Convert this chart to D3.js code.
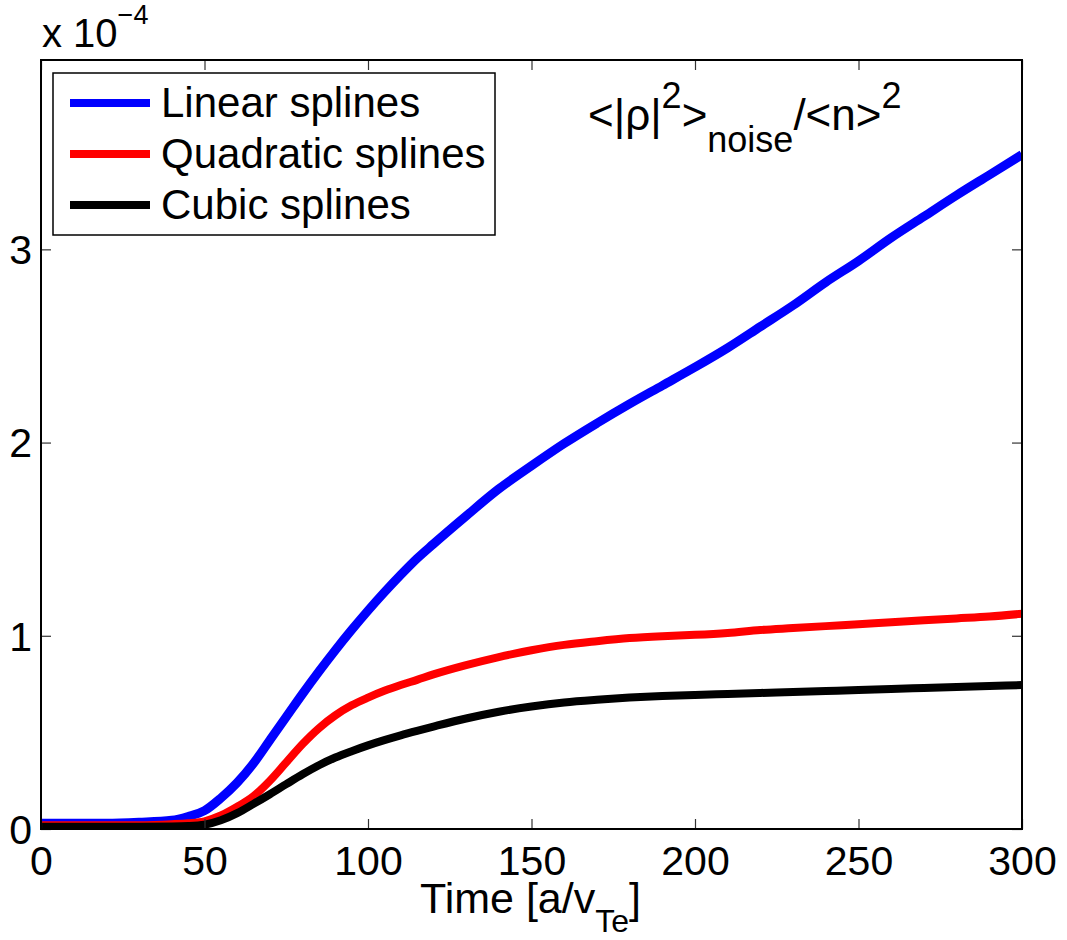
<!DOCTYPE html>
<html>
<head>
<meta charset="utf-8">
<script src="https://cdn.jsdelivr.net/npm/d3@7"></script>
<style>
  body { margin: 0; background: #fff; }
  text { font-family: "Liberation Sans", Arial, Helvetica, sans-serif; fill: #000; }
</style>
</head>
<body>
<div id="chart"></div>
<script>
// time axis samples [a/v_Te]
const times = [0, 10, 20, 30, 40, 45, 50, 55, 60, 65, 70, 75, 80, 85, 90, 95, 100, 105, 110, 115, 120,
  130, 140, 150, 160, 170, 180, 190, 200, 210, 220, 230, 240, 250, 260, 270, 280, 290, 300];

// <|rho|^2>_noise / <n>^2, in units of 1e-4
const linearSplines = [0.03, 0.03, 0.03, 0.035, 0.045, 0.065, 0.095, 0.16, 0.24, 0.34, 0.46, 0.58, 0.70, 0.815, 0.925, 1.03, 1.13, 1.225, 1.315, 1.40, 1.475,
  1.62, 1.76, 1.88, 1.995, 2.10, 2.20, 2.295, 2.39, 2.49, 2.60, 2.71, 2.83, 2.94, 3.06, 3.17, 3.28, 3.385, 3.49];
const quadraticSplines = [0.02, 0.02, 0.02, 0.02, 0.025, 0.03, 0.04, 0.07, 0.115, 0.17, 0.25, 0.345, 0.44, 0.522, 0.588, 0.64, 0.68, 0.715, 0.745, 0.772, 0.80,
  0.848, 0.89, 0.925, 0.953, 0.972, 0.988, 0.998, 1.005, 1.015, 1.03, 1.04, 1.05, 1.06, 1.07, 1.08, 1.09, 1.10, 1.114];
const cubicSplines = [0.012, 0.012, 0.012, 0.012, 0.013, 0.015, 0.022, 0.045, 0.082, 0.13, 0.18, 0.232, 0.283, 0.33, 0.37, 0.403, 0.433, 0.46, 0.485, 0.508, 0.53,
  0.572, 0.607, 0.634, 0.655, 0.669, 0.68, 0.688, 0.694, 0.699, 0.704, 0.709, 0.714, 0.719, 0.725, 0.73, 0.735, 0.74, 0.745];

const seriesNames = ["Linear splines", "Quadratic splines", "Cubic splines"];
const seriesColors = ["#0000ff", "#ff0000", "#000000"];
const xTicks = [0, 50, 100, 150, 200, 250, 300];
const yTicks = [0, 1, 2, 3];

const W = 1067, H = 940;
const m = { left: 41, right: 45, top: 60, bottom: 111 };
const yMax = 3.98;

const svg = d3.select("#chart").append("svg")
  .attr("width", W).attr("height", H);

const x = d3.scaleLinear().domain([0, 300]).range([m.left, W - m.right]);
const y = d3.scaleLinear().domain([0, yMax]).range([H - m.bottom, m.top]);

const allSeries = [linearSplines, quadraticSplines, cubicSplines].map((vals, i) => ({
  name: seriesNames[i],
  color: seriesColors[i],
  width: i === 0 ? 9 : 8,
  values: times.map((t, j) => ({ t: t, v: vals[j] }))
}));

// clip lines to the axes box
svg.append("clipPath").attr("id", "plotclip")
  .append("rect")
  .attr("x", x(0)).attr("y", y(yMax))
  .attr("width", x(300) - x(0)).attr("height", y(0) - y(yMax));

const line = d3.line()
  .x(d => x(d.t))
  .y(d => y(d.v))
  .curve(d3.curveMonotoneX);

svg.append("g").attr("clip-path", "url(#plotclip)")
  .selectAll("path")
  .data(allSeries)
  .join("path")
    .attr("fill", "none")
    .attr("stroke", d => d.color)
    .attr("stroke-width", d => d.width)
    .attr("stroke-linejoin", "round")
    .attr("d", d => line(d.values));

// axes: ticks point inward, on all four sides (matlab style)
const tickLen = 10;
const fontSize = 41;
const intFmt = d3.format("d");

const bottomAxis = svg.append("g")
  .attr("transform", `translate(0,${y(0)})`)
  .call(d3.axisBottom(x).tickValues(xTicks).tickFormat(intFmt).tickSizeInner(-tickLen).tickSizeOuter(0).tickPadding(16));
const topAxis = svg.append("g")
  .attr("transform", `translate(0,${y(yMax)})`)
  .call(d3.axisTop(x).tickValues(xTicks).tickSizeInner(-tickLen).tickSizeOuter(0).tickFormat(""));
const leftAxis = svg.append("g")
  .attr("transform", `translate(${x(0)},0)`)
  .call(d3.axisLeft(y).tickValues(yTicks).tickFormat(intFmt).tickSizeInner(-tickLen).tickSizeOuter(0).tickPadding(9));
const rightAxis = svg.append("g")
  .attr("transform", `translate(${x(300)},0)`)
  .call(d3.axisRight(y).tickValues(yTicks).tickSizeInner(-tickLen).tickSizeOuter(0).tickFormat(""));

[bottomAxis, topAxis, leftAxis, rightAxis].forEach(g => {
  g.select(".domain").remove();
  g.selectAll(".tick line").attr("stroke", "#333").attr("stroke-width", 1.2);
  g.selectAll(".tick text")
    .style("font-family", '"Liberation Sans", Arial, sans-serif')
    .attr("font-size", fontSize).attr("fill", "#000");
});
bottomAxis.selectAll(".tick text").attr("dy", "0.72em");
leftAxis.selectAll(".tick text").attr("dy", "0.35em");

// box
svg.append("rect")
  .attr("x", x(0)).attr("y", y(yMax))
  .attr("width", x(300) - x(0)).attr("height", y(0) - y(yMax))
  .attr("fill", "none").attr("stroke", "#000").attr("stroke-width", 2);

// exponent label
const expo = svg.append("text").attr("x", 42).attr("y", 47).attr("font-size", 40);
expo.append("tspan").text("x 10");
expo.append("tspan").attr("font-size", 27).attr("dy", -23).text("\u22124");

// x axis label
const xlab = svg.append("text")
  .attr("x", (x(0) + x(300)) / 2 - 1).attr("y", 913)
  .attr("text-anchor", "middle").attr("font-size", 43);
xlab.append("tspan").text("Time [a/v");
xlab.append("tspan").attr("font-size", 32).attr("dy", 19).text("Te");
xlab.append("tspan").attr("dy", -19).text("]");

// annotation
const ann = svg.append("text").attr("x", 588).attr("y", 130).attr("font-size", 44);
ann.append("tspan").text("<|\u03c1|");
ann.append("tspan").attr("font-size", 36).attr("dy", -22).text("2");
ann.append("tspan").attr("dy", 22).text(">");
ann.append("tspan").attr("font-size", 36).attr("dy", 22).text("noise");
ann.append("tspan").attr("dy", -22).text("/<n>");
ann.append("tspan").attr("font-size", 36).attr("dy", -22).text("2");

// legend
const legend = svg.append("g");
legend.append("rect")
  .attr("x", 53).attr("y", 73).attr("width", 442).attr("height", 162)
  .attr("fill", "#fff").attr("stroke", "#000").attr("stroke-width", 1.5);
const rowY = [103, 154, 205];
const items = legend.selectAll("g.item").data(allSeries).join("g")
  .attr("class", "item")
  .attr("transform", (d, i) => `translate(0,${rowY[i]})`);
items.append("line")
  .attr("x1", 70).attr("x2", 150)
  .attr("stroke", d => d.color).attr("stroke-width", 8);
items.append("text")
  .attr("x", 161).attr("y", 14)
  .attr("font-size", 42)
  .text(d => d.name);
</script>
</body>
</html>
